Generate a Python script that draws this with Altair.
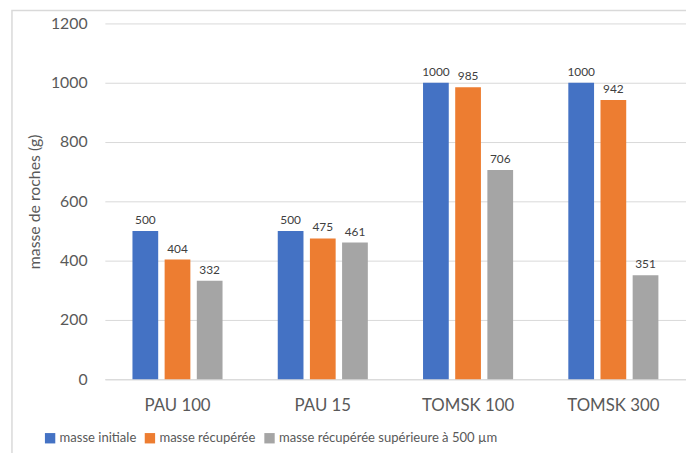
import altair as alt
import pandas as pd

categories = ["PAU 100", "PAU 15", "TOMSK 100", "TOMSK 300"]
series = ["masse initiale", "masse récupérée", "masse récupérée supérieure à 500 µm"]
masse_initiale = [500, 500, 1000, 1000]
masse_recuperee = [404, 475, 985, 942]
masse_sup_500 = [332, 461, 706, 351]
colors = ["#4472C4", "#ED7D31", "#A5A5A5"]

rows = []
for vals, s in zip([masse_initiale, masse_recuperee, masse_sup_500], series):
    for c, v in zip(categories, vals):
        rows.append({"cat": c, "serie": s, "val": v})
df = pd.DataFrame(rows)

FONT = "Lato"

x = alt.X("cat:N", sort=categories, title=None,
          scale=alt.Scale(paddingInner=0.38, paddingOuter=0.19),
          axis=alt.Axis(labelAngle=0, labelFontSize=17, labelColor="#595959",
                        labelPadding=19, ticks=False, domainColor="#D9D9D9",
                        labelFont=FONT))
xo = alt.XOffset("serie:N", sort=series, scale=alt.Scale(paddingInner=0.2, paddingOuter=0))
y = alt.Y("val:Q", title="masse de roches (g)",
          scale=alt.Scale(domain=[0, 1200], nice=False),
          axis=alt.Axis(values=[0, 200, 400, 600, 800, 1000, 1200], format="d",
                        labelFontSize=16,
                        labelColor="#595959", labelPadding=18, ticks=False, domain=False,
                        gridColor="#D9D9D9", titleFontSize=16, titleColor="#595959",
                        titleFontWeight="normal", titlePadding=8, titleFont=FONT,
                        labelFont=FONT))

base = alt.Chart(df)

bars = base.mark_bar().encode(
    x=x, xOffset=xo, y=y,
    color=alt.Color("serie:N", sort=series, scale=alt.Scale(domain=series, range=colors),
                    legend=alt.Legend(title=None, orient="none", legendX=-62, legendY=413,
                                      direction="horizontal", symbolType="square",
                                      symbolSize=110, symbolStrokeWidth=0,
                                      labelFontSize=13.2, labelColor="#595959",
                                      labelFont=FONT, columnPadding=7, labelOffset=3,
                                      labelLimit=0, symbolOpacity=1)),
)

labels = base.mark_text(dy=-11, fontSize=12, color="#404040", font=FONT).encode(
    x=x, xOffset=xo, y=y, text="val:Q"
)

frame = alt.Chart(pd.DataFrame({"a": [0]})).mark_rect(
    fill=None, stroke="#D9D9D9", strokeWidth=1.5
).encode(x=alt.value(-94), x2=alt.value(700), y=alt.value(-13), y2=alt.value(445))

chart = alt.layer(frame, bars, labels).properties(
    width=588, height=360,
    autosize=alt.AutoSizeParams(type="none"),
    padding={"left": 98, "top": 13, "right": 0, "bottom": 72},
).configure_view(stroke=None)

chart.save("out.html", embed_options={"renderer": "svg", "actions": False})
